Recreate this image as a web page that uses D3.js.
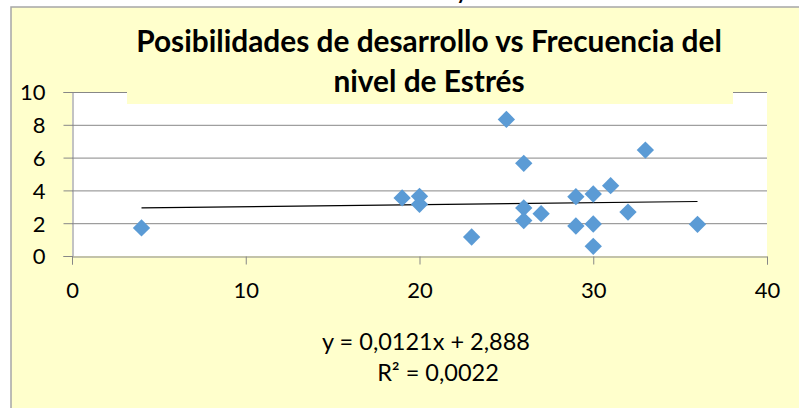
<!DOCTYPE html>
<html>
<head>
<meta charset="utf-8">
<script src="https://cdn.jsdelivr.net/npm/d3@7"></script>
<style>
  body { margin: 0; background: #fff; }
  svg { display: block; }
</style>
</head>
<body>
<div id="chart"></div>
<script>
// data
const xValues = [4, 19, 20, 20, 23, 25, 26, 26, 26, 27, 29, 29, 30, 30, 30, 31, 32, 33, 36];
const yValues = [1.71, 3.54, 3.64, 3.15, 1.16, 8.33, 5.65, 2.93, 2.16, 2.58, 3.62, 1.83, 3.78, 1.95, 0.59, 4.29, 2.68, 6.46, 1.93];
const xTicks = [0, 10, 20, 30, 40];
const yTicks = [0, 2, 4, 6, 8, 10];
const trendCoef = [0.0121, 2.888]; // slope, intercept
const titleLines = ["Posibilidades de desarrollo vs Frecuencia del", "nivel de Estrés"];
const equationLines = ["y = 0,0121x + 2,888", "R² = 0,0022"];
const headerText = "Gráfico N° 11: Posibilidades de desarrollo y Frecuencia del nivel de Estrés";

const width = 799, height = 408;
const plot = { left: 72, right: 767, top: 92, bottom: 256 };
const font = "Lato, 'Open Sans', sans-serif";

const svg = d3.select("#chart").append("svg")
  .attr("width", width)
  .attr("height", height);

// caption above the chart, mostly outside the picture
svg.append("text")
  .attr("x", 20).attr("y", -1)
  .style("font-family", font).style("font-weight", "bold").style("font-size", "20px")
  .attr("textLength", 760)
  .text(headerText);

// chart area
svg.append("rect")
  .attr("x", 11).attr("y", 7)
  .attr("width", width).attr("height", height)
  .attr("fill", "#FFFFCC")
  .attr("stroke", "#A6A6A6")
  .attr("stroke-width", 1.5);

// plot area
svg.append("rect")
  .attr("x", plot.left).attr("y", plot.top)
  .attr("width", plot.right - plot.left).attr("height", plot.bottom - plot.top)
  .attr("fill", "#fff");

const x = d3.scaleLinear().domain([0, 40]).range([plot.left, plot.right]);
const y = d3.scaleLinear().domain([0, 10]).range([plot.bottom, plot.top]);

// gridlines
svg.append("g").selectAll("line")
  .data(yTicks.filter(d => d > 0))
  .enter().append("line")
  .attr("x1", plot.left).attr("x2", plot.right)
  .attr("y1", d => y(d) + 0.5).attr("y2", d => y(d) + 0.5)
  .attr("stroke", "#878787").attr("stroke-width", 1);

// axes
const xAxis = svg.append("g")
  .attr("transform", `translate(0,${plot.bottom + 0.5})`)
  .call(d3.axisBottom(x).tickValues(xTicks).tickSize(8).tickPadding(18));
const yAxis = svg.append("g")
  .attr("transform", `translate(${plot.left + 0.5},0)`)
  .call(d3.axisLeft(y).tickValues(yTicks).tickSize(9).tickPadding(18));

[xAxis, yAxis].forEach(g => {
  g.select(".domain").attr("stroke", "#878787");
  g.selectAll(".tick line").attr("stroke", "#878787");
  g.selectAll(".tick text")
    .attr("fill", "#000")
    .style("font-family", font)
    .style("font-size", "22px");
});
yAxis.selectAll(".tick text").attr("dy", "0.36em");

// title box
svg.append("rect")
  .attr("x", 127).attr("y", 28)
  .attr("width", 733 - 127).attr("height", 104 - 28)
  .attr("fill", "#FFFFCC");

const title = svg.append("g")
  .style("font-family", font)
  .style("font-weight", "bold")
  .attr("text-anchor", "middle");
const t1 = title.append("text")
  .attr("x", 429).attr("y", 52)
  .style("font-size", "26px")
  .text(titleLines[0]);
// scale font so the first line spans the same width as in the picture
const fs = 26 * 586 / t1.node().getComputedTextLength();
t1.style("font-size", fs + "px");
title.append("text")
  .attr("x", 429).attr("y", 92)
  .style("font-size", fs + "px")
  .text(titleLines[1]);

// trendline
const xr = d3.extent(xValues);
svg.append("line")
  .attr("x1", x(xr[0])).attr("y1", y(trendCoef[0] * xr[0] + trendCoef[1]))
  .attr("x2", x(xr[1])).attr("y2", y(trendCoef[0] * xr[1] + trendCoef[1]))
  .attr("stroke", "#000").attr("stroke-width", 1.2);

// markers
const diamond = d3.symbol().type(d3.symbolSquare).size(150);
svg.append("g").selectAll("path")
  .data(xValues.map((d, i) => [d, yValues[i]]))
  .enter().append("path")
  .attr("d", diamond)
  .attr("transform", d => `translate(${x(d[0])},${y(d[1])}) rotate(45)`)
  .attr("fill", "#5B9BD5");

// equation label
const eq = svg.append("g")
  .style("font-family", font)
  .style("font-size", "21px")
  .attr("text-anchor", "middle");
const eqText = eq.selectAll("text")
  .data(equationLines)
  .enter().append("text")
  .attr("x", (d, i) => i === 0 ? 426 : 438)
  .attr("y", (d, i) => 350 + i * 31)
  .text(d => d);
const efs = 21 * 208 / eqText.node().getComputedTextLength();
eq.style("font-size", efs + "px");
</script>
</body>
</html>
